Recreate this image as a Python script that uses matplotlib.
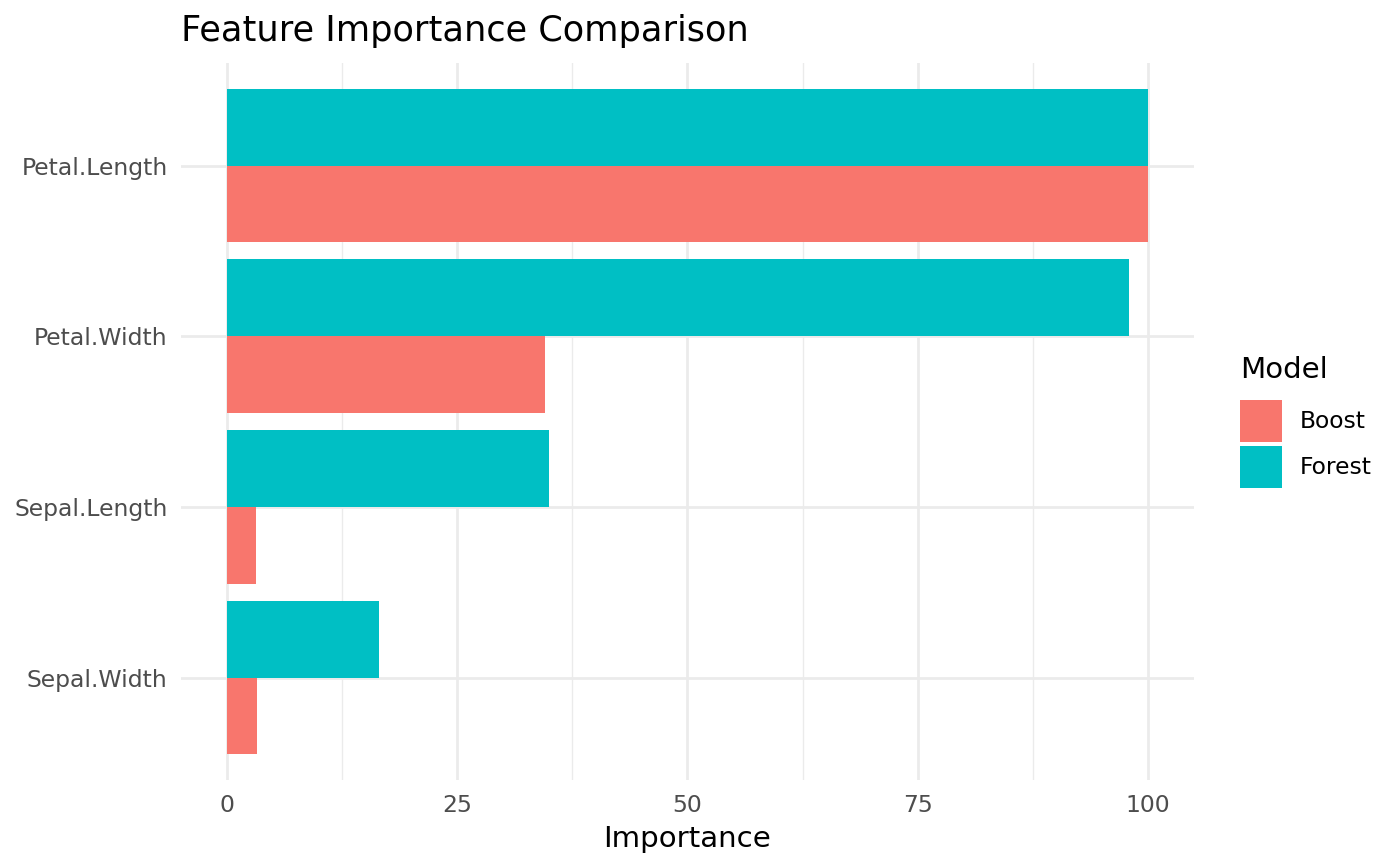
import matplotlib.pyplot as plt
import numpy as np
from matplotlib.patches import Rectangle

# Data
features = ['Sepal.Width', 'Sepal.Length', 'Petal.Width', 'Petal.Length']
boost = [3.3, 3.2, 34.6, 100.0]
forest = [16.5, 35.0, 97.9, 100.0]
models = ['Boost', 'Forest']
colors = {'Boost': '#F8766D', 'Forest': '#00BFC4'}

plt.rcParams['font.family'] = 'DejaVu Sans'

W, H = 1400, 866
fig = plt.figure(figsize=(W / 100, H / 100), dpi=100)
ax = fig.add_axes([0.129, 0.0993, 0.724, 0.8277])

y = np.arange(1, len(features) + 1)
w = 0.45
ax.barh(y - w / 2, boost, height=w, color=colors['Boost'], zorder=2)
ax.barh(y + w / 2, forest, height=w, color=colors['Forest'], zorder=2)

ax.set_xlim(-5, 105)
ax.set_ylim(0.4, len(features) + 0.6)

ax.set_xticks([0, 25, 50, 75, 100])
ax.set_xticks([12.5, 37.5, 62.5, 87.5], minor=True)
ax.set_yticks(y)
ax.set_yticklabels(features)

# theme_minimal look
for s in ax.spines.values():
    s.set_visible(False)
ax.grid(True, which='major', color='#EBEBEB', linewidth=2.0, zorder=0)
ax.grid(True, which='minor', axis='x', color='#EBEBEB', linewidth=1.0, zorder=0)
ax.set_axisbelow(True)
ax.tick_params(axis='both', which='both', length=0, labelsize=16.9, labelcolor='#4D4D4D')
ax.tick_params(axis='y', pad=9.4)
ax.tick_params(axis='x', pad=10)

ax.set_xlabel('Importance', fontsize=21.1, labelpad=6)
ax.set_title('Feature Importance Comparison', fontsize=25.3, loc='left', pad=16)

# legend drawn by hand (pixel positions from top-left)
def fx(px):
    return px / W

def fy(py):
    return 1 - py / H

fig.text(fx(1240), fy(370), 'Model', fontsize=21.1, ha='left', va='center')
key_top = 400
for i, m in enumerate(models):
    top = key_top + i * 46
    fig.add_artist(Rectangle((fx(1240), fy(top + 42)), 42 / W, 42 / H,
                             transform=fig.transFigure, facecolor=colors[m],
                             edgecolor='none'))
    fig.text(fx(1300), fy(top + 21), m, fontsize=16.9, ha='left', va='center')

fig.savefig('out.png', dpi=100)
